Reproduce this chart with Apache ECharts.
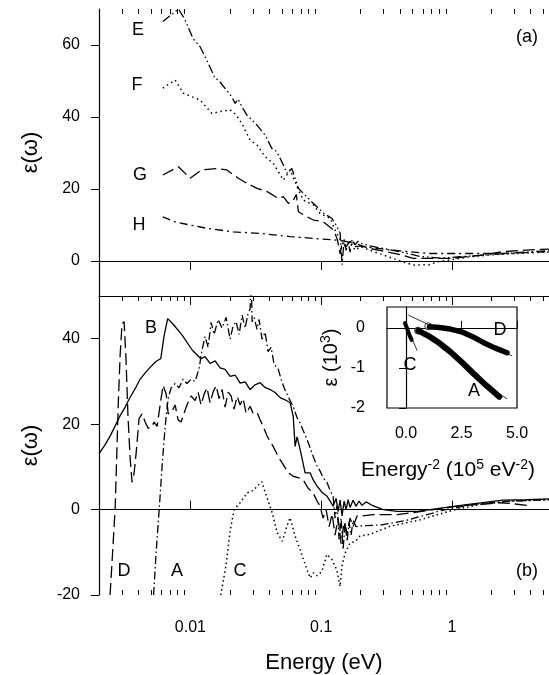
<!DOCTYPE html>
<html>
<head>
<meta charset="utf-8">
<script src="https://cdn.jsdelivr.net/npm/echarts@6/dist/echarts.min.js"></script>
<style>
  html, body { margin: 0; padding: 0; background: #fff; }
  #chart { width: 549px; height: 675px; }
</style>
</head>
<body>
<div id="chart"></div>
<script>
// energy range of the two main panels (eV, log scale)
var E_MIN = 0.002, E_MAX = 5.52;

var majorTicks = [0.01, 0.1, 1];
var minorTicks = [0.003, 0.004, 0.005, 0.006, 0.007, 0.008, 0.009,
                  0.02, 0.03, 0.04, 0.05, 0.06, 0.07, 0.08, 0.09,
                  0.2, 0.3, 0.4, 0.5, 0.6, 0.7, 0.8, 0.9,
                  2, 3, 4, 5];
var topYTicks = [0, 20, 40, 60];
var bottomYTicks = [-20, 0, 20, 40];
var insetXTicks = [0, 2.5, 5];
var insetYTicks = [-2, -1, 0];

// panel (a): [energy, eps]
var eData = [[0.00615,66.5],[0.0081,70],[0.00911,67],[0.01043,61.9],[0.01186,59.5],[0.01334,55.8],[0.01545,50.7],[0.01637,50.3],
  [0.02072,45.6],[0.02197,43.8],[0.02317,45],[0.02472,42.9],[0.02698,40.6],[0.0322,37.8],[0.03725,35],[0.0419,31.3],[0.04576,30.4],
  [0.0514,26.7],[0.0546,24.4],[0.0596,25.7],[0.0632,23],[0.0669,20.2],[0.0731,18.8],[0.0823,16.9],[0.0926,15.1],[0.104,13.3],
  [0.1205,11.9],[0.1277,10.5],[0.1395,7.8],[0.1445,-1],[0.1497,6],[0.155,3],[0.1606,5.5],[0.1663,2.5],[0.1722,6],[0.1816,4.5],
  [0.1914,5.5],[0.2053,4.8],[0.2365,4.2],[0.401,2.6],[0.57,1.3],[0.81,0.8],[1.15,1.2],[1.95,1.8],[3.31,2.4],[5.52,2.9]];
var fData = [[0.00615,48],[0.00764,50.3],[0.00884,46.6],[0.01186,44.7],[0.01459,41],[0.01687,41.5],[0.02012,42],[0.02236,40.6],
  [0.02472,38.2],[0.02861,33.6],[0.03232,32.2],[0.03725,29],[0.04311,27.1],[0.0514,22.5],[0.05785,25.3],[0.0654,20.6],[0.0731,16.9],
  [0.0872,15.6],[0.0981,13.2],[0.117,11.9],[0.1277,8.6],[0.1395,6],[0.1523,4],[0.1663,5.5],[0.1816,3],[0.1983,4],[0.2365,3.0],
  [0.382,0.3],[0.506,-1.1],[0.679,-1.0],[0.772,-0.2],[1.37,1.2],[2.33,1.9],[5.52,2.5]];
var gData = [[0.00615,23.9],[0.0081,26.2],[0.00995,23],[0.01217,25.3],[0.01594,25.7],[0.01896,25.3],[0.02327,23],[0.02698,21.6],
  [0.03232,20.2],[0.03866,19.3],[0.04707,17.4],[0.0514,17.9],[0.0561,16],[0.0612,16.9],[0.0646,18.5],[0.0669,13.7],[0.0778,12.3],
  [0.0872,11.4],[0.104,10.9],[0.1243,8.6],[0.133,6],[0.1395,2],[0.1445,5],[0.155,4],[0.1663,5.5],[0.1816,4],[0.2053,4.2],
  [0.2365,3.5],[0.401,1.8],[0.506,0.75],[1.0,0.75],[1.64,1.6],[2.45,2.6],[4.38,3.2],[5.52,3.3]];
var hData = [[0.00615,12.3],[0.00764,10.9],[0.00995,10],[0.01334,9.1],[0.02131,8.1],[0.03411,7.7],[0.05785,6.8],[0.0872,6.3],
  [0.1316,5.8],[0.1523,5.5],[0.1816,5.0],[0.2105,4.0],[0.336,3.1],[0.667,2.1],[1.1,2.1],[2.45,2.1],[5.52,2.6]];

// panel (b)
var aData = [[0.00523,-20],[0.00547,-10],[0.00577,0],[0.00607,10],[0.0063,16.6],[0.00653,22],[0.00676,26],[0.00712,28.5],
  [0.00764,29.5],[0.00819,28.5],[0.00878,30.5],[0.00941,29.5],[0.01012,30.5],[0.01086,30],[0.01165,33],[0.01229,37.5],
  [0.01295,40.5],[0.01366,38],[0.01439,43.8],[0.01518,41],[0.01628,44.5],[0.01747,42.5],[0.01875,45],[0.02012,39.9],[0.0212,43],
  [0.02236,44],[0.02357,41],[0.02485,45.5],[0.0262,42.5],[0.02762,46],[0.02861,46.9],[0.02912,55],[0.02964,44],[0.0307,45],
  [0.03232,42.2],[0.03351,44.5],[0.0353,39.9],[0.03725,41.5],[0.03925,37],[0.0414,38],[0.04365,34],[0.04683,33],[0.0494,30.5],
  [0.05205,28.5],[0.05483,27],[0.05785,25.5],[0.06097,24.2],[0.0654,21.5],[0.06899,20.3],[0.07278,18.5],[0.07805,16.4],
  [0.08227,14.5],[0.08672,12.5],[0.093,10.2],[0.0981,9],[0.1034,7.5],[0.111,6.3],[0.117,4.5],[0.1233,3.1],[0.1277,-2],[0.1323,1],
  [0.137,-7],[0.142,-2],[0.1471,-9.4],[0.1523,-3],[0.1578,-7.5],[0.1634,-3],[0.1693,-6],[0.1753,-2.5],[0.1848,-4],[0.2053,-3.8],
  [0.29,-3.6],[0.45,-2.5],[0.68,-1],[0.81,-0.3],[1.45,1.2],[2.63,1.9],[5.52,2.3]];
var bData = [[0.002,13.1],[0.00223,15.2],[0.00243,17.2],[0.00266,19.6],[0.0029,22],[0.00317,24],[0.00346,26.3],[0.00378,28.3],
  [0.00412,30.5],[0.00451,32],[0.00492,33.3],[0.00537,34.5],[0.00559,34.9],[0.00593,35.3],[0.0063,40.8],[0.0067,44.7],
  [0.00733,43.5],[0.00867,40.8],[0.01035,37.3],[0.01202,35.3],[0.01295,35.8],[0.01414,34.2],[0.01545,34.8],[0.01687,33.2],
  [0.01842,32.8],[0.02012,31.2],[0.02197,31.5],[0.02399,29.6],[0.0262,29.9],[0.02861,28.1],[0.03124,29.2],[0.03411,29.7],
  [0.03725,28.6],[0.04068,28.1],[0.04443,27.4],[0.04851,26.2],[0.05298,25.7],[0.05785,25],[0.0611,21.9],[0.06318,14.8],
  [0.0654,17],[0.06899,14.1],[0.07534,8.6],[0.08227,8.6],[0.0867,7],[0.093,5.5],[0.1017,4],[0.111,3.1],[0.117,2],[0.1233,0.8],
  [0.13,2.6],[0.1347,-0.5],[0.1395,2.2],[0.1445,-1.5],[0.1497,2],[0.155,0],[0.1606,2.3],[0.1663,0.5],[0.1753,2.2],[0.1848,0.8],
  [0.1948,2],[0.2053,1],[0.2204,1.8],[0.2449,1.0],[0.2978,0],[0.382,-0.4],[0.545,-0.4],[0.772,0.2],[1.34,1.2],[2.45,2.2],
  [3.71,2.3],[5.52,2.5]];
var cData = [[0.01705,-20],[0.01875,-13],[0.02012,-5],[0.02158,0],[0.02399,1.6],[0.02711,3.9],[0.0304,4.5],[0.03236,5.5],
  [0.03527,6.5],[0.03683,4.5],[0.03866,2.7],[0.04225,-0.8],[0.04616,-5.5],[0.05041,-7.4],[0.05448,-4],[0.05785,-1.9],
  [0.06318,-6.2],[0.06899,-9.4],[0.07777,-14],[0.08227,-16],[0.08718,-14.8],[0.093,-15.5],[0.1011,-14.5],[0.1105,-10.5],
  [0.1207,-11.7],[0.1316,-14.1],[0.1395,-18],[0.1445,-13],[0.1523,-10.2],[0.1663,-7.8],[0.1816,-7.5],[0.1983,-6.2],
  [0.2365,-5.8],[0.336,-3.9],[0.57,-2.4],[1.03,-0.1],[1.64,1.2],[2.78,2.0],[5.52,2.3]];
var dData = [[0.00243,-20],[0.00252,-12],[0.00266,0.5],[0.00281,25],[0.0029,36],[0.003,43.5],[0.00311,44],[0.00321,36],
  [0.00333,22],[0.00346,12],[0.00358,6.4],[0.00371,8.5],[0.00385,13.4],[0.00405,21.3],[0.00427,22.4],[0.00451,20.5],
  [0.00476,19],[0.00502,19.3],[0.00528,20.5],[0.00557,19.5],[0.00586,24.4],[0.00618,29.1],[0.00653,27],[0.00676,22.4],
  [0.00724,23],[0.00764,24.5],[0.00805,21],[0.00848,20.5],[0.00893,22.5],[0.00941,24.5],[0.01012,26.6],[0.01086,25.5],
  [0.01145,27.5],[0.01206,24.5],[0.01272,27],[0.0134,28.5],[0.01414,25],[0.0149,27.5],[0.01572,29],[0.01657,26],[0.01747,28.1],
  [0.01842,24],[0.01942,27.5],[0.02048,26.6],[0.02158,23.5],[0.02276,26.5],[0.02399,24.5],[0.0253,26],[0.02667,22.5],
  [0.02861,24.2],[0.03017,22.5],[0.03236,22.7],[0.03411,21],[0.03596,19.5],[0.03859,17.2],[0.04068,16],[0.04289,14.8],
  [0.046,13],[0.04851,11.7],[0.05298,9.8],[0.05684,8.5],[0.06097,7.8],[0.06663,7.5],[0.07278,7],[0.07949,5],[0.08672,3.9],
  [0.093,2],[0.0981,0.8],[0.1034,-2],[0.109,0],[0.115,-4],[0.1212,-1],[0.1277,-6],[0.1347,-2],[0.142,-8],[0.1497,-3],
  [0.1578,-5.5],[0.1663,-2],[0.1753,-4],[0.1881,-1.5],[0.2053,-1.5],[0.2491,-1.2],[0.382,-1.2],[0.667,-0.2],[1.1,0.8],
  [2.33,1.6],[2.86,1.4],[3.88,0.9]];

// inset: [energy^-2 (1e5 eV^-2), eps (1e3)]
var insetA = [[0.55,-0.07],[1.0,-0.2],[1.5,-0.38],[2.0,-0.6],[2.5,-0.85],[3.0,-1.12],[3.5,-1.38],[4.0,-1.62],[4.2,-1.72]];
var insetD = [[1.05,0.03],[1.5,0.01],[2.0,-0.03],[2.5,-0.1],[3.0,-0.22],[3.5,-0.37],[4.0,-0.5],[4.55,-0.62]];
var insetC = [[-0.05,0.12],[0.05,-0.02],[0.15,-0.18],[0.25,-0.3]];
var fitA = [[0.45,0.0],[1.0,-0.17],[2.5,-0.83],[4.0,-1.58],[4.55,-1.77]];
var fitD = [[0.1,0.32],[1.05,0.07],[2.0,-0.02],[3.0,-0.24],[4.0,-0.5],[4.78,-0.7]];
var fitC = [[-0.06,0.16],[0.5,-0.57]];
var insetStarts = [[0.54,-0.07],[1.0,0.04]];

var font = '"Liberation Sans", Arial, Helvetica, sans-serif';
var black = '#000';

function logAxis(grid, position, ticks, len, extra) {
    var ax = {
        type: 'log', logBase: 10, gridIndex: grid, position: position,
        min: E_MIN, max: E_MAX,
        axisLine: { show: false, lineStyle: { color: black, width: 1.2 } },
        axisTick: { show: true, inside: true, length: len, customValues: ticks,
                    lineStyle: { color: black, width: 1 } },
        axisLabel: { show: false },
        splitLine: { show: false }, minorTick: { show: false }
    };
    return Object.assign(ax, extra || {});
}

function valueY(grid, min, max, ticks, extra) {
    var ax = {
        type: 'value', gridIndex: grid, min: min, max: max,
        axisLine: { show: true, lineStyle: { color: black, width: 1.2 } },
        axisTick: { show: true, inside: false, length: 8, customValues: ticks,
                    lineStyle: { color: black, width: 1 } },
        axisLabel: { show: true, customValues: ticks, margin: 19,
                     color: black, fontSize: 16, fontFamily: font },
        splitLine: { show: false }
    };
    return Object.assign(ax, extra || {});
}

function line(data, xi, yi, dash, width) {
    return {
        type: 'line', data: data, xAxisIndex: xi, yAxisIndex: yi,
        symbol: 'none', showSymbol: false, silent: true,
        lineStyle: { color: black, width: width || 1.3, type: dash }
    };
}

var zeroLine = {
    silent: true, symbol: 'none', label: { show: false },
    lineStyle: { color: black, width: 1, type: 'solid' },
    data: [{ yAxis: 0 }]
};

function label(text, x, y, size) {
    return { type: 'text', x: x, y: y, silent: true,
             style: { text: text, fill: black, fontSize: size || 18, fontFamily: font,
                      align: 'center', verticalAlign: 'middle' } };
}

var supRich = {
    sup: { fontSize: 14, fontFamily: font, color: black, verticalAlign: 'top', lineHeight: 13 }
};

var myChart = echarts.init(document.getElementById('chart'));

var option = {
    animation: false,
    backgroundColor: '#fff',
    grid: [
        { left: 99, top: 9, width: 450, height: 287 },
        { left: 99, top: 296, width: 450, height: 299 },
        { left: 387, top: 307, width: 130, height: 101, show: true,
          borderColor: black, borderWidth: 1.2, backgroundColor: '#fff' }
    ],
    xAxis: [
        logAxis(0, 'top', majorTicks, 9, { axisLine: { show: true, lineStyle: { color: black, width: 1.2 } } }),
        logAxis(0, 'top', minorTicks, 5),
        logAxis(1, 'bottom', majorTicks, 9, {
            axisLine: { show: true, lineStyle: { color: black, width: 1.2 } },
            axisLabel: { show: true, customValues: majorTicks, margin: 25, color: black,
                         fontSize: 16, fontFamily: font,
                         formatter: function (v) { return String(+(+v).toPrecision(3)); } },
            name: 'Energy (eV)', nameLocation: 'middle', nameGap: 57,
            nameTextStyle: { color: black, fontSize: 22, fontFamily: font }
        }),
        logAxis(1, 'bottom', minorTicks, 5),
        logAxis(1, 'top', majorTicks, 9, { axisLine: { show: true, lineStyle: { color: black, width: 1.2 } } }),
        logAxis(1, 'top', minorTicks, 5),
        {
            type: 'value', gridIndex: 2, min: -0.86, max: 5.0,
            axisLine: { show: true, lineStyle: { color: black, width: 1.2 } },
            axisTick: { show: true, inside: true, length: 7, customValues: insetXTicks,
                        lineStyle: { color: black, width: 1 } },
            axisLabel: { show: true, customValues: insetXTicks, margin: 18, color: black,
                         fontSize: 16, fontFamily: font,
                         formatter: function (v) { return (+v).toFixed(1); } },
            splitLine: { show: false },
            name: 'Energy{sup|-2} (10{sup|5} eV{sup|-2})', nameLocation: 'middle', nameGap: 50,
            nameTextStyle: { color: black, fontSize: 21, fontFamily: font, lineHeight: 24,
                             padding: [0, 8, 0, 0], rich: supRich }
        }
    ],
    yAxis: [
        valueY(0, -9.7, 70, topYTicks, {
            name: 'ε(ω)', nameLocation: 'middle', nameRotate: 90, nameGap: 57,
            nameTextStyle: { color: black, fontSize: 22, fontFamily: font }
        }),
        valueY(1, -20, 50, bottomYTicks, {
            name: 'ε(ω)', nameLocation: 'middle', nameRotate: 90, nameGap: 57,
            nameTextStyle: { color: black, fontSize: 22, fontFamily: font }
        }),
        valueY(2, -2, 0.52, insetYTicks, {
            axisTick: { show: true, inside: false, length: 7, customValues: insetYTicks,
                        lineStyle: { color: black, width: 1 } },
            axisLabel: { show: true, customValues: insetYTicks, margin: 22, color: black,
                         fontSize: 16, fontFamily: font },
            name: 'ε (10{sup|3})', nameLocation: 'middle', nameRotate: 90, nameGap: 44,
            nameTextStyle: { color: black, fontSize: 20, fontFamily: font, lineHeight: 24, rich: supRich }
        })
    ],
    series: [
        line(eData, 0, 0, [9, 3, 1.5, 3, 1.5, 3]),
        line(fData, 0, 0, [1.5, 3.5], 1.5),
        line(gData, 0, 0, [12, 5]),
        Object.assign(line(hData, 0, 0, [8, 4, 2, 4]), { markLine: zeroLine }),

        Object.assign(line(bData, 2, 1, 'solid'), { markLine: zeroLine }),
        line(dData, 2, 1, [12, 5]),
        line(aData, 2, 1, [8, 3, 1.5, 3]),
        line(cData, 2, 1, [1.5, 3], 1.5),

        line(fitA, 6, 2, 'solid', 0.8),
        line(fitD, 6, 2, 'solid', 0.8),
        line(fitC, 6, 2, 'solid', 0.8),
        Object.assign(line(insetA, 6, 2, 'solid', 6), { lineStyle: { color: black, width: 6, cap: 'round' } }),
        Object.assign(line(insetD, 6, 2, 'solid', 5.5), { lineStyle: { color: black, width: 5.5, cap: 'round' } }),
        Object.assign(line(insetC, 6, 2, 'solid', 4), { lineStyle: { color: black, width: 4, cap: 'round' } }),
        {
            type: 'scatter', data: insetStarts, xAxisIndex: 6, yAxisIndex: 2, silent: true,
            symbol: 'circle', symbolSize: 7,
            itemStyle: { color: '#fff', borderColor: black, borderWidth: 1 }
        }
    ],
    graphic: [
        label('E', 138, 30), label('F', 137, 85), label('G', 140, 175), label('H', 139, 225),
        label('(a)', 527, 37),
        label('B', 151, 328), label('D', 124, 571), label('A', 177, 571), label('C', 240, 571),
        label('(b)', 527, 571),
        label('D', 500, 330), label('C', 410, 365), label('A', 474, 391)
    ]
};

myChart.setOption(option);
</script>
</body>
</html>
